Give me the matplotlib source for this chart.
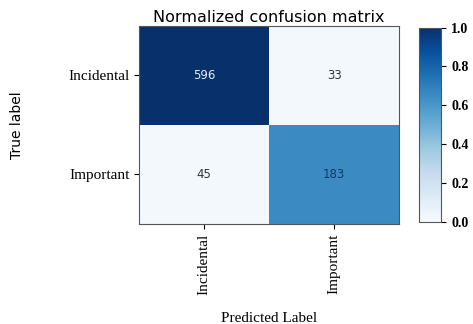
import numpy as np
import matplotlib.pyplot as plt

# confusion matrix counts and the shade of each cell
classes = ['Incidental', 'Important']
counts = [[596, 33],
          [45, 183]]
shade = [[1.0, 0.02],
         [0.02, 0.65]]
text_colors = [['#e8eef6', '#333333'],
               ['#333333', '#0b3a6e']]

fig = plt.figure(figsize=(4.73, 3.24), dpi=100)
ax = fig.add_axes([0.294, 0.309, 0.550, 0.611])
cax = fig.add_axes([0.886, 0.315, 0.046, 0.600])

im = ax.imshow(np.array(shade), cmap='Blues', vmin=0, vmax=1, aspect='auto')
for i in range(2):
    for j in range(2):
        ax.text(j, i, str(counts[i][j]), ha='center', va='center',
                fontsize=8.5, color=text_colors[i][j])

ax.set_title('Normalized confusion matrix', fontsize=11.5, pad=3)
ax.set_xticks(range(len(classes)))
ax.set_yticks(range(len(classes)))
ax.set_xticklabels(classes, rotation=90, family='Liberation Serif', fontsize=11)
ax.set_yticklabels(classes, family='Liberation Serif', fontsize=11)
ax.set_xlabel('Predicted Label', family='Liberation Serif', fontsize=11, labelpad=12)
ax.set_ylabel('True label', fontsize=10, labelpad=32)
for s in ax.spines.values():
    s.set_color('#555555')

cb = fig.colorbar(im, cax=cax, ticks=[0, 0.2, 0.4, 0.6, 0.8, 1.0])
cb.ax.set_yticklabels(['0.0', '0.2', '0.4', '0.6', '0.8', '1.0'],
                      family='Liberation Serif', fontsize=10, fontweight='bold')
cb.ax.tick_params(pad=4)
cb.outline.set_edgecolor('#555555')

fig.savefig('out.png', dpi=100)
